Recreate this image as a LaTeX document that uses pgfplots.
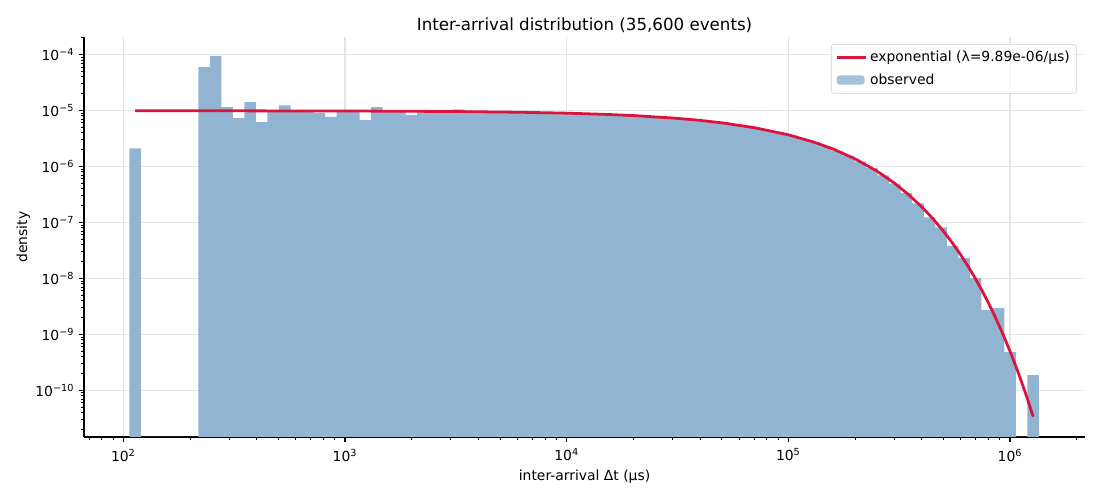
\documentclass[border=0pt]{standalone}
\usepackage{pgfplots}
\pgfplotsset{compat=1.18}
\usepackage{pgfplotstable}
\usepackage{fontspec}
\setmainfont{DejaVu Sans}
\definecolor{barblue}{RGB}{144,180,210}
\definecolor{crim}{RGB}{220,20,60}
\definecolor{gridgray}{RGB}{229,229,229}

\pgfplotstableread{
x y
106.44 2.11e-6
119.95 1e-12
135.21 1e-12
152.34 1e-12
171.79 1e-12
193.57 1e-12
218.15 5.93e-5
245.90 9.33e-5
277.07 1.146e-5
312.29 7.29e-6
351.95 1.41e-5
396.64 6.18e-6
447.10 9.75e-6
503.83 1.24e-5
567.93 9.8e-6
640.05 9.8e-6
721.28 9.1e-6
813.02 7.7e-6
916.22 9.9e-6
1032.8 9.8e-6
1163.9 6.7e-6
1311.6 1.15e-5
1478.5 9.8e-6
1666.0 9.7e-6
1878.0 8.3e-6
2116.4 9.67e-6
2385.0 9.64e-6
2688.4 9.61e-6
3029.7 1.05e-5
3414.7 9.54e-6
3848.1 9.50e-6
4336.5 9.45e-6
4888.7 9.39e-6
5510.2 9.33e-6
6211.5 9.27e-6
6998.4 9.19e-6
7886.8 9.10e-6
8888.7 9.05e-6
10018 8.90e-6
11291 8.70e-6
12727 8.65e-6
14342 8.51e-6
16168 8.34e-6
18219 8.17e-6
20535 7.97e-6
23141 7.75e-6
26077 7.52e-6
29390 7.26e-6
33135 6.98e-6
37342 6.68e-6
42081 6.35e-6
47424 6.01e-6
53456 5.64e-6
60242 5.25e-6
67899 4.84e-6
76526 4.42e-6
86237 3.99e-6
97207 3.56e-6
109540 3.12e-6
123460 2.70e-6
139170 2.29e-6
156820 1.90e-6
176810 1.54e-6
199220 1.22e-6
224570 9.32e-7
253060 6.91e-7
285140 4.93e-7
321390 3.37e-7
362240 2.18e-7
408320 1.23e-7
460130 8.14e-8
518560 3.78e-8
584520 2.30e-8
658840 1.01e-8
742670 2.72e-9
836790 2.95e-9
942950 4.83e-10
1062900 1e-12
1197900 1.87e-10
1350200 1e-12
}\histdata

\pgfplotstableread{
x y
113 9.879e-6
300 9.861e-6
1050 9.788e-6
3000 9.601e-6
6000 9.320e-6
10000 8.959e-6
15000 8.526e-6
20000 8.115e-6
30000 7.351e-6
40000 6.659e-6
50000 6.032e-6
70000 4.949e-6
100000 3.679e-6
130000 2.734e-6
160000 2.032e-6
200000 1.368e-6
250000 8.344e-7
300000 5.088e-7
350000 3.103e-7
400000 1.893e-7
450000 1.154e-7
500000 7.040e-8
550000 4.293e-8
600000 2.618e-8
650000 1.5966e-8
700000 9.738e-9
750000 5.938e-9
800000 3.621e-9
850000 2.208e-9
900000 1.347e-9
950000 8.21e-10
1010000 4.540e-10
1050000 3.055e-10
1100000 1.863e-10
1150000 1.136e-10
1200000 6.93e-11
1272000 3.40e-11
}\curvedata

\begin{document}
\begin{tikzpicture}
\path[use as bounding box] (0,0) rectangle (792pt,360pt);
\begin{axis}[
  at={(60.5pt,45.4pt)}, anchor=south west,
  scale only axis, width=720.7pt, height=288pt,
  xmode=log, ymode=log, log origin y=infty,
  xmin=66.5, xmax=2.18e6, ymin=1.47e-11, ymax=2.06e-4,
  axis x line*=bottom, axis y line*=left,
  axis line style={-, line width=0.8pt},
  tick align=outside,
  major tick length=3.5pt, minor tick length=2pt,
  every tick/.style={black, line width=0.8pt},
  minor tick style={line width=0.6pt},
  xtick={100,1000,10000,100000,1000000},
  xticklabels={10\textsuperscript{2},10\textsuperscript{3},10\textsuperscript{4},10\textsuperscript{5},10\textsuperscript{6}},
  minor xtick={70,80,90,200,300,400,500,600,700,800,900,2000,3000,4000,5000,6000,7000,8000,9000,20000,30000,40000,50000,60000,70000,80000,90000,200000,300000,400000,500000,600000,700000,800000,900000,2000000},
  ytick={1e-10,1e-9,1e-8,1e-7,1e-6,1e-5,1e-4},
  yticklabels={10\textsuperscript{−10},10\textsuperscript{−9},10\textsuperscript{−8},10\textsuperscript{−7},10\textsuperscript{−6},10\textsuperscript{−5},10\textsuperscript{−4}},
  minor ytick={2e-11,3e-11,4e-11,5e-11,6e-11,7e-11,8e-11,9e-11,
    2e-10,3e-10,4e-10,5e-10,6e-10,7e-10,8e-10,9e-10,
    2e-9,3e-9,4e-9,5e-9,6e-9,7e-9,8e-9,9e-9,
    2e-8,3e-8,4e-8,5e-8,6e-8,7e-8,8e-8,9e-8,
    2e-7,3e-7,4e-7,5e-7,6e-7,7e-7,8e-7,9e-7,
    2e-6,3e-6,4e-6,5e-6,6e-6,7e-6,8e-6,9e-6,
    2e-5,3e-5,4e-5,5e-5,6e-5,7e-5,8e-5,9e-5,2e-4},
  tick label style={font=\fontsize{10}{12}\selectfont},
  x tick label style={yshift=-1.5pt},
  grid=major,
  grid style={line width=0.8pt, draw=gridgray},
  title={Inter-arrival distribution (35,600 events)},
  title style={font=\fontsize{12}{14}\selectfont, at={(0.5,1)}, anchor=south, yshift=-6.5pt},
  xlabel={inter-arrival Δt (μs)},
  ylabel={density},
  label style={font=\fontsize{10}{12}\selectfont},
  xlabel style={yshift=0.7pt},
  ylabel style={yshift=-3pt},
  legend style={at={(0.992,0.982)}, anchor=north east, draw=gray!35, rounded corners=2pt,
    fill=white, fill opacity=0.8, text opacity=1, font=\fontsize{10}{12}\selectfont,
    inner xsep=3pt, inner ysep=3pt, row sep=3pt},
  legend cell align=left,
  reverse legend,
]
\addplot[ybar interval, fill=barblue, draw=none,
  legend image code/.code={\fill[barblue] (0pt,-3.3pt) rectangle (20pt,3.3pt);}]
  table[x=x, y=y] {\histdata};
\addlegendentry{observed}
\addplot[crim, line width=2pt, line join=round,
  legend image code/.code={\draw[crim, line width=2pt] (0pt,0pt) -- (21pt,0pt);}]
  table[x=x, y=y] {\curvedata};
\addlegendentry{exponential (λ=9.89e-06/μs)}
\end{axis}
\end{tikzpicture}
\end{document}
